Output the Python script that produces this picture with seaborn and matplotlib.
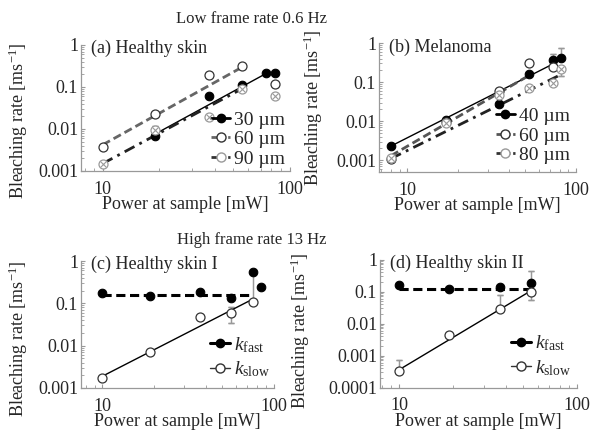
import numpy as np
import matplotlib
matplotlib.use("Agg")
import matplotlib.pyplot as plt
import seaborn as sns
from matplotlib.lines import Line2D
from matplotlib.ticker import FuncFormatter, LogLocator, NullFormatter

# ---- data ----
# (a) healthy skin, low frame rate
a30_p = [19, 37, 56, 75, 84]
a30_k = [0.0069, 0.061, 0.114, 0.21, 0.21]
a60_p = [10, 19, 37, 56, 84]
a60_k = [0.0038, 0.023, 0.19, 0.32, 0.12]
a90_p = [10, 19, 37, 56, 84]
a90_k = [0.00145, 0.0095, 0.019, 0.092, 0.061]
a30_fit_p = [19, 75]
a30_fit_k = [0.0075, 0.21]
a60_fit_p = [10, 56]
a60_fit_k = [0.0042, 0.30]
a90_fit_p = [10, 56]
a90_fit_k = [0.0015, 0.092]
a_err_p = [84, 19]
a_err_lo = [0.10, 0.0095]
a_err_hi = [0.12, 0.012]

# (b) melanoma, low frame rate
b40_p = [8, 17, 35, 53, 73, 82]
b40_k = [0.0023, 0.0105, 0.028, 0.165, 0.37, 0.42]
b60_p = [8, 17, 35, 53, 73]
b60_k = [0.0011, 0.0095, 0.06, 0.30, 0.25]
b80_p = [8, 17, 35, 53, 73, 82]
b80_k = [0.00115, 0.009, 0.048, 0.071, 0.093, 0.22]
b40_fit_p = [8, 73]
b40_fit_k = [0.0023, 0.29]
b60_fit_p = [8, 53]
b60_fit_k = [0.0013, 0.15]
b80_fit_p = [8, 80]
b80_fit_k = [0.0011, 0.15]
b_err_p = [73, 82, 82]
b_err_lo = [0.37, 0.42, 0.14]
b_err_hi = [0.52, 0.74, 0.22]

# (c) healthy skin I, high frame rate
c_fast_p = [10, 19, 37, 56, 75, 84]
c_fast_k = [0.18, 0.15, 0.19, 0.136, 0.56, 0.24]
c_slow_p = [10, 19, 37, 56, 75]
c_slow_k = [0.0017, 0.0072, 0.048, 0.058, 0.105]
c_fast_fit_p = [10, 75]
c_fast_fit_k = [0.155, 0.155]
c_slow_fit_p = [10, 75]
c_slow_fit_k = [0.0019, 0.125]
c_err_p = [56, 75]
c_err_lo = [0.035, 0.105]
c_err_hi = [0.08, 0.56]

# (d) healthy skin II, high frame rate
d_fast_p = [10, 19, 37, 55]
d_fast_k = [0.165, 0.117, 0.138, 0.19]
d_slow_p = [10, 19, 37, 55]
d_slow_k = [0.00032, 0.0043, 0.029, 0.097]
d_fast_fit_p = [10, 55]
d_fast_fit_k = [0.118, 0.118]
d_slow_fit_p = [10, 55]
d_slow_fit_k = [0.00036, 0.105]
d_err_p = [55, 10, 37, 55]
d_err_lo = [0.19, 0.00032, 0.029, 0.056]
d_err_hi = [0.43, 0.0007, 0.08, 0.097]

sns.set_style("ticks")
plt.rcParams['font.family'] = ['Liberation Serif', 'DejaVu Serif']
plt.rcParams['mathtext.fontset'] = 'custom'
plt.rcParams['mathtext.rm'] = 'Liberation Serif'
plt.rcParams['mathtext.it'] = 'Liberation Serif:italic'
FS = 13
GRAY = '#999999'

fig = plt.figure(figsize=(5.9, 4.32), dpi=100)
ax_a = fig.add_axes([81 / 590, 1 - 171 / 432, 208.5 / 590, 126 / 432])
ax_b = fig.add_axes([379 / 590, 1 - 172 / 432, 197 / 590, 129 / 432])
ax_c = fig.add_axes([81 / 590, 1 - 388 / 432, 193 / 590, 127 / 432])
ax_d = fig.add_axes([380 / 590, 1 - 387.5 / 432, 197 / 590, 128 / 432])


def filled(ax, p, k):
    sns.scatterplot(x=p, y=k, ax=ax, marker='o', s=38, color='black',
                    edgecolor='black', linewidth=0.8, zorder=5)


def opened(ax, p, k):
    sns.scatterplot(x=p, y=k, ax=ax, marker='o', s=42, color='white',
                    edgecolor='#333333', linewidth=0.9, zorder=5)


def crossed(ax, p, k):
    sns.scatterplot(x=p, y=k, ax=ax, marker='o', s=42, color='white',
                    edgecolor=GRAY, linewidth=0.9, zorder=5)
    sns.scatterplot(x=p, y=k, ax=ax, marker='x', s=15, color=GRAY,
                    linewidth=0.8, zorder=6)


def fitline(ax, p, k, **kw):
    sns.lineplot(x=p, y=k, ax=ax, estimator=None, sort=False, zorder=3, **kw)


def errs(ax, p, lo, hi):
    p = np.array(p)
    lo = np.array(lo)
    hi = np.array(hi)
    ax.errorbar(p, lo, yerr=[np.zeros_like(lo), hi - lo], fmt='none',
                ecolor=GRAY, elinewidth=0.9, capsize=2, zorder=2)
    ax.errorbar(p, hi, yerr=[hi - lo, np.zeros_like(hi)], fmt='none',
                ecolor=GRAY, elinewidth=0.9, capsize=2, zorder=2)


def style(ax, xlim, ylim, title, ylab_xy):
    ax.set_xscale('log')
    ax.set_yscale('log')
    ax.set_xlim(*xlim)
    ax.set_ylim(*ylim)
    ax.set_xticks([10, 100])
    ax.xaxis.set_major_formatter(FuncFormatter(lambda v, _: '{:g}'.format(v)))
    ax.xaxis.set_minor_locator(LogLocator(base=10, subs=np.arange(2, 10)))
    ax.xaxis.set_minor_formatter(NullFormatter())
    ax.yaxis.set_major_locator(LogLocator(base=10, numticks=10))
    ax.yaxis.set_major_formatter(FuncFormatter(lambda v, _: '{:g}'.format(v)))
    ax.yaxis.set_minor_locator(LogLocator(base=10, subs=np.arange(2, 10), numticks=10))
    ax.yaxis.set_minor_formatter(NullFormatter())
    ax.tick_params(which='both', direction='in', color=GRAY, labelsize=FS)
    ax.tick_params(axis='x', pad=7)
    ax.tick_params(axis='y', pad=2)
    ax.tick_params(which='major', length=3, width=0.8)
    ax.tick_params(which='minor', length=2, width=0.6)
    sns.despine(ax=ax)
    for s in ('left', 'bottom'):
        ax.spines[s].set_color(GRAY)
        ax.spines[s].set_linewidth(0.9)
    ax.set_xlabel('Power at sample [mW]', fontsize=FS, labelpad=-1)
    ax.set_ylabel('Bleaching rate [ms$^{\\mathrm{-1}}$]', fontsize=FS)
    ax.yaxis.set_label_coords(*ylab_xy)
    ax.text(0.05, 0.97, title, transform=ax.transAxes, fontsize=FS,
            ha='left', va='center')


def legend(ax, handles, labels, anchor, spacing=0.1):
    ax.legend(handles, labels, loc='lower right', bbox_to_anchor=anchor,
              frameon=False, fontsize=FS + 1, handlelength=1.0, handletextpad=0.2,
              labelspacing=spacing, borderaxespad=0, borderpad=0)


# (a)
fitline(ax_a, a30_fit_p, a30_fit_k, color='black', linewidth=1.0)
fitline(ax_a, a60_fit_p, a60_fit_k, color='#666666', linewidth=2.0,
        linestyle=(0, (3, 1.5)))
fitline(ax_a, a90_fit_p, a90_fit_k, color='#222222', linewidth=2.0,
        linestyle=(0, (4, 2, 1, 2)))
errs(ax_a, a_err_p, a_err_lo, a_err_hi)
filled(ax_a, a30_p, a30_k)
opened(ax_a, a60_p, a60_k)
crossed(ax_a, a90_p, a90_k)
style(ax_a, (7.66, 100), (0.001, 1), '(a) Healthy skin', (-0.245, 0.40))
h_a = [Line2D([0], [0], color='black', lw=2, marker='o', ms=6, mfc='black', mec='black'),
       Line2D([0], [0], color='#666666', lw=2, ls=(0, (2, 1)), marker='o', ms=6.5, mfc='white', mec='#333333'),
       Line2D([0], [0], color='#333333', lw=2, ls=(0, (2, 1)), marker='o', ms=6.5, mfc='white', mec=GRAY)]
legend(ax_a, h_a, ['30 µm', '60 µm', '90 µm'], (0.98, 0.025))

# (b)
fitline(ax_b, b40_fit_p, b40_fit_k, color='black', linewidth=1.0)
fitline(ax_b, b60_fit_p, b60_fit_k, color='#555555', linewidth=2.0,
        linestyle=(0, (3, 1.5)))
fitline(ax_b, b80_fit_p, b80_fit_k, color='#222222', linewidth=2.0,
        linestyle=(0, (4, 2, 1, 2)))
errs(ax_b, b_err_p, b_err_lo, b_err_hi)
filled(ax_b, b40_p, b40_k)
opened(ax_b, b60_p, b60_k)
crossed(ax_b, b80_p, b80_k)
style(ax_b, (6.8, 100), (0.0005, 1), '(b) Melanoma', (-0.274, 0.5))
h_b = [Line2D([0], [0], color='black', lw=2, marker='o', ms=6, mfc='black', mec='black'),
       Line2D([0], [0], color='#555555', lw=2, ls=(0, (2, 1)), marker='o', ms=6.5, mfc='white', mec='#333333'),
       Line2D([0], [0], color='#333333', lw=2, ls=(0, (2, 1)), marker='o', ms=6.5, mfc='white', mec=GRAY)]
legend(ax_b, h_b, ['40 µm', '60 µm', '80 µm'], (0.97, 0.06))

# (c)
errs(ax_c, c_err_p, c_err_lo, c_err_hi)
fitline(ax_c, c_fast_fit_p, c_fast_fit_k, color='black', linewidth=2.2,
        linestyle=(0, (3, 1.5)))
fitline(ax_c, c_slow_fit_p, c_slow_fit_k, color='black', linewidth=1.0)
filled(ax_c, c_fast_p, c_fast_k)
opened(ax_c, c_slow_p, c_slow_k)
style(ax_c, (7.5, 100), (0.001, 1), '(c) Healthy skin I', (-0.264, 0.39))
h_k = [Line2D([0], [0], color='black', lw=2.2, marker='o', ms=6, mfc='black', mec='black'),
       Line2D([0], [0], color='#333333', lw=1.0, marker='o', ms=6.5, mfc='white', mec='#333333')]
legend(ax_c, h_k, [r'$k_{\mathrm{fast}}$', r'$k_{\mathrm{slow}}$'], (0.98, 0.07), 0.25)

# (d)
errs(ax_d, d_err_p, d_err_lo, d_err_hi)
fitline(ax_d, d_fast_fit_p, d_fast_fit_k, color='black', linewidth=2.2,
        linestyle=(0, (3, 1.5)))
fitline(ax_d, d_slow_fit_p, d_slow_fit_k, color='black', linewidth=1.0)
filled(ax_d, d_fast_p, d_fast_k)
opened(ax_d, d_slow_p, d_slow_k)
style(ax_d, (7.8, 100), (0.0001, 1), '(d) Healthy skin II', (-0.345, 0.44))
legend(ax_d, h_k, [r'$k_{\mathrm{fast}}$', r'$k_{\mathrm{slow}}$'], (0.97, 0.075), 0.25)

fig.text(252 / 590, 1 - 19 / 432, 'Low frame rate 0.6 Hz', ha='center', va='center', fontsize=FS - 1)
fig.text(252 / 590, 1 - 240 / 432, 'High frame rate 13 Hz', ha='center', va='center', fontsize=FS - 1)

fig.savefig('out.png', dpi=100)
